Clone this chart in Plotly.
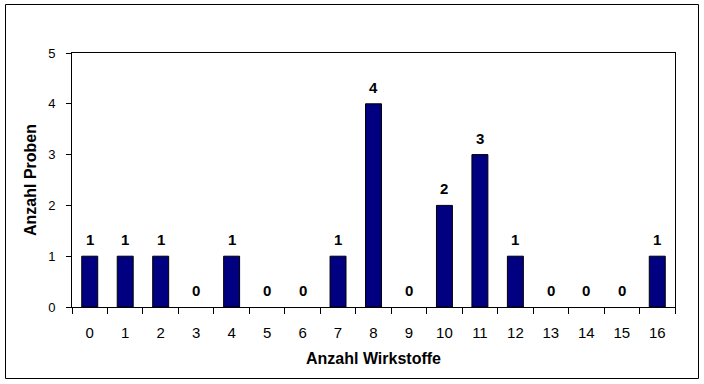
import plotly.graph_objects as go

categories = [str(i) for i in range(17)]
values = [1, 1, 1, 0, 1, 0, 0, 1, 4, 0, 2, 3, 1, 0, 0, 0, 1]
y_ticks = [0, 1, 2, 3, 4, 5]

W, H = 704, 384
L, R, T, B = 72, 29, 53, 77

fig = go.Figure(go.Bar(
    x=categories, y=values,
    marker=dict(color="#000080",
                line=dict(color="black", width=[1 if v > 0 else 0 for v in values])),
    hoverinfo="x+y",
))

for c, v in zip(categories, values):
    fig.add_annotation(x=c, y=v, text=str(v), showarrow=False,
                       yanchor="bottom", yshift=6,
                       font=dict(family="Liberation Sans, Arial", size=15, color="black", weight="bold"))

pw = W - L - R
ph = H - T - B
def px_x(p): return (p - L) / pw
def px_y(p): return (H - B - p) / ph

fig.add_shape(type="rect", xref="paper", yref="paper",
              x0=px_x(5.5), x1=px_x(698.5), y0=px_y(378.5), y1=px_y(4.5),
              line=dict(color="black", width=1), fillcolor="rgba(0,0,0,0)", layer="below")

fig.update_layout(
    width=W, height=H,
    margin=dict(l=L, r=R, t=T, b=B),
    paper_bgcolor="white", plot_bgcolor="white",
    bargap=0.55,
    showlegend=False,
    font=dict(family="Liberation Sans, Arial", color="black", size=12),
    xaxis=dict(
        type="category", showline=True, linecolor="black", linewidth=1, mirror=True,
        ticks="outside", tickson="boundaries", ticklen=6, tickcolor="black",
        showgrid=False, tickfont=dict(size=15), ticklabelstandoff=12,
        title=dict(text="Anzahl Wirkstoffe", font=dict(size=16, weight="bold"), standoff=12),
    ),
    yaxis=dict(
        range=[0, 5], tickvals=y_ticks, showline=True, linecolor="black", linewidth=1, mirror=True,
        ticks="outside", ticklen=5, tickcolor="black", showgrid=False, zeroline=False,
        tickfont=dict(size=13), ticklabelstandoff=8,
        title=dict(text="Anzahl Proben", font=dict(size=16, weight="bold"), standoff=7),
    ),
)

fig.write_html("out.html")
